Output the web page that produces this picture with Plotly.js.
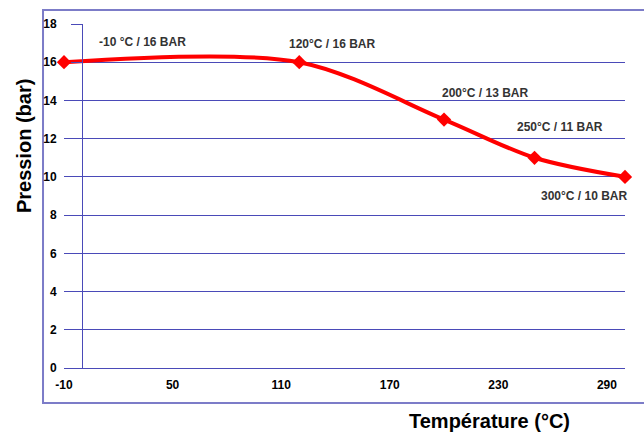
<!DOCTYPE html>
<html>
<head>
<meta charset="utf-8">
<script src="https://cdn.plot.ly/plotly-3.0.1.min.js"></script>
<style>html,body{margin:0;padding:0;background:#fff;}#chart{width:644px;height:434px;}</style>
</head>
<body>
<div id="chart"></div>
<script>
// Data
var temperatures = [-10, 120, 200, 250, 300];
var pressures = [16, 16, 13, 11, 10];
var pointLabels = ["-10 °C / 16 BAR", "120°C / 16 BAR", "200°C / 13 BAR", "250°C / 11 BAR", "300°C / 10 BAR"];
var xTickValues = [-10, 50, 110, 170, 230, 290];
var xTickLabels = ["-10", "50", "110", "170", "230", "290"];
var yTickValues = [0, 2, 4, 6, 8, 10, 12, 14, 16, 18];

// Label offsets (pixels) - styling only
var labelShiftX = [78, 33, 41, 25, -41];
var labelShiftY = [20, 18, 27, 31, -19];

var gridColor = '#4a4ab8';
var fontFam = 'Liberation Sans, Arial, sans-serif';

var trace = {
  x: temperatures,
  y: pressures,
  type: 'scatter',
  mode: 'lines+markers',
  line: {color: '#ff0000', width: 4, shape: 'spline', smoothing: 0.9},
  marker: {symbol: 'diamond', size: 11, color: '#ff0000'},
  cliponaxis: false,
  hoverinfo: 'skip'
};

var annotations = temperatures.map(function (t, i) {
  return {
    x: t, y: pressures[i], xref: 'x', yref: 'y',
    xanchor: 'center', yanchor: 'middle',
    text: pointLabels[i],
    showarrow: false,
    xshift: labelShiftX[i], yshift: labelShiftY[i],
    font: {family: fontFam, size: 12, color: '#333333', weight: 'bold'}
  };
});
annotations.push({
  xref: 'paper', yref: 'paper', x: -0.0713, y: 0.645,
  xanchor: 'center', yanchor: 'middle',
  text: 'Pression (bar)', textangle: -90, showarrow: false,
  font: {family: fontFam, size: 20, color: '#000', weight: 'bold'}
});
annotations.push({
  xref: 'paper', yref: 'paper', x: 0.759, y: -0.154,
  xanchor: 'center', yanchor: 'middle',
  text: 'Température (°C)', showarrow: false,
  font: {family: fontFam, size: 20, color: '#000', weight: 'bold'}
});

var xRange = [-10, 300];
var yAxisPos = (0 - xRange[0]) / (xRange[1] - xRange[0]);

var layout = {
  width: 644, height: 434,
  margin: {l: 64, r: 19, t: 24, b: 66, pad: 0},
  paper_bgcolor: '#ffffff', plot_bgcolor: '#ffffff',
  showlegend: false,
  xaxis: {
    range: xRange,
    tickmode: 'array', tickvals: xTickValues, ticktext: xTickLabels,
    showgrid: false, zeroline: false,
    showline: true, linecolor: gridColor, linewidth: 1,
    ticks: '', ticklabelstandoff: 6,
    tickfont: {family: fontFam, size: 12, color: '#000', weight: 'bold'}
  },
  yaxis: {
    range: [0, 18],
    anchor: 'free', position: yAxisPos,
    tickmode: 'array', tickvals: yTickValues,
    showgrid: true, gridcolor: gridColor, gridwidth: 1,
    zeroline: false,
    showline: true, linecolor: gridColor, linewidth: 1,
    ticks: 'outside', ticklen: 11, tickcolor: gridColor, tickwidth: 1,
    ticklabelstandoff: 12,
    tickfont: {family: fontFam, size: 12, color: '#000', weight: 'bold'}
  },
  shapes: [{
    type: 'rect', xref: 'paper', yref: 'paper',
    x0: -0.0374, x1: 1.06, y0: -0.1017, y1: 1.0407,
    line: {color: '#7c7cc8', width: 2}, fillcolor: 'rgba(0,0,0,0)', layer: 'below'
  }],
  annotations: annotations
};

Plotly.newPlot('chart', [trace], layout, {displayModeBar: false, staticPlot: true});
</script>
</body>
</html>
